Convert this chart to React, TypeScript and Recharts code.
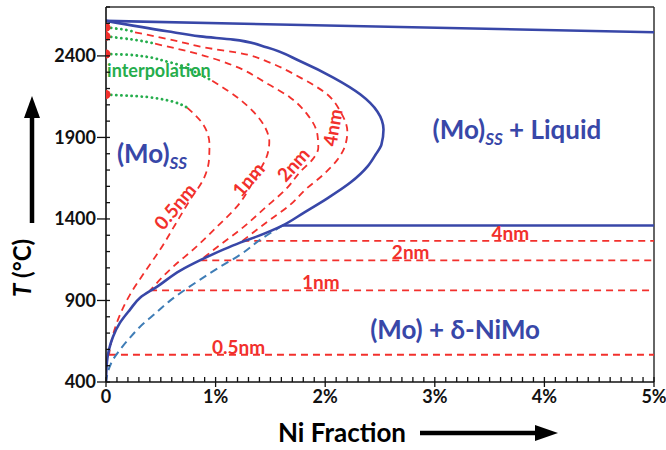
import React from "react";
import {
  ComposedChart,
  Line,
  Scatter,
  XAxis,
  YAxis,
  ReferenceLine,
  ReferenceDot,
} from "recharts";

type Pt = { x: number; t: number };

// x = Ni fraction (%), t = temperature (°C)
const liquidus: Pt[] = [
  { x: 0, t: 2615 },
  { x: 5, t: 2545 },
];

const solidusSolvus: Pt[] = [
  { x: 0, t: 2615 }, { x: 0.557, t: 2551 }, { x: 0.86, t: 2520 },
  { x: 1.161, t: 2500 }, { x: 1.472, t: 2451 }, { x: 1.773, t: 2367 },
  { x: 2.074, t: 2267 }, { x: 2.322, t: 2163 }, { x: 2.477, t: 2058 },
  { x: 2.532, t: 1948 }, { x: 2.513, t: 1856 }, { x: 2.459, t: 1794 },
  { x: 2.385, t: 1721 }, { x: 2.23, t: 1623 }, { x: 2.016, t: 1525 },
  { x: 1.807, t: 1439 }, { x: 1.609, t: 1359 }, { x: 1.38, t: 1293 },
  { x: 1.224, t: 1255 }, { x: 1.069, t: 1212 }, { x: 0.86, t: 1147 },
  { x: 0.677, t: 1083 }, { x: 0.467, t: 985 }, { x: 0.311, t: 917 },
  { x: 0.219, t: 844 }, { x: 0.128, t: 764 }, { x: 0.064, t: 678 },
  { x: 0.027, t: 598 }, { x: 0.009, t: 525 }, { x: 0, t: 400 },
];

const bulkSolvus: Pt[] = [
  { x: 1.609, t: 1359 }, { x: 1.408, t: 1273 }, { x: 1.225, t: 1181 },
  { x: 1.042, t: 1107 }, { x: 0.859, t: 1028 }, { x: 0.585, t: 899 },
  { x: 0.448, t: 819 }, { x: 0.311, t: 739 }, { x: 0.219, t: 672 },
  { x: 0.128, t: 598 }, { x: 0.064, t: 537 }, { x: 0.018, t: 463 },
  { x: 0, t: 400 },
];

const eutecticLine: Pt[] = [
  { x: 1.609, t: 1360 },
  { x: 5, t: 1360 },
];

// nanoparticle sizes
const sizes = ["0.5nm", "1nm", "2nm", "4nm"];
const meltT = [2163, 2412, 2520, 2575];
const plateauT = [567, 962, 1146, 1265];
const plateauStart = [0.027, 0.402, 0.86, 1.243];

const interp05: Pt[] = [{ x: 0, t: 2163 }, { x: 0.402, t: 2146 }, { x: 0.74, t: 2083 }];
const interp1: Pt[] = [
  { x: 0, t: 2412 }, { x: 0.246, t: 2405 }, { x: 0.557, t: 2365 },
  { x: 0.86, t: 2285 }, { x: 0.969, t: 2248 },
];
const interp2: Pt[] = [{ x: 0, t: 2520 }, { x: 0.246, t: 2500 }, { x: 0.448, t: 2475 }];
const interp4: Pt[] = [{ x: 0, t: 2575 }, { x: 0.13, t: 2565 }, { x: 0.265, t: 2545 }];

const curve05: Pt[] = [
  { x: 0.74, t: 2083 }, { x: 0.887, t: 1979 }, { x: 0.944, t: 1856 },
  { x: 0.94, t: 1764 }, { x: 0.896, t: 1653 }, { x: 0.768, t: 1518 },
  { x: 0.631, t: 1365 }, { x: 0.494, t: 1212 }, { x: 0.356, t: 1077 },
  { x: 0.219, t: 936 }, { x: 0.128, t: 813 }, { x: 0.064, t: 690 },
  { x: 0.027, t: 567 },
];
const curve1: Pt[] = [
  { x: 0.969, t: 2248 }, { x: 1.224, t: 2132 }, { x: 1.344, t: 2058 },
  { x: 1.453, t: 1960 }, { x: 1.49, t: 1874 }, { x: 1.472, t: 1794 },
  { x: 1.407, t: 1702 }, { x: 1.316, t: 1598 }, { x: 1.224, t: 1500 },
  { x: 1.014, t: 1353 }, { x: 0.795, t: 1212 }, { x: 0.612, t: 1107 },
  { x: 0.402, t: 962 },
];
const curve2: Pt[] = [
  { x: 0.448, t: 2475 }, { x: 0.86, t: 2408 }, { x: 1.161, t: 2341 },
  { x: 1.472, t: 2230 }, { x: 1.682, t: 2144 }, { x: 1.838, t: 2040 },
  { x: 1.929, t: 1917 }, { x: 1.937, t: 1837 }, { x: 1.883, t: 1764 },
  { x: 1.773, t: 1690 }, { x: 1.655, t: 1592 }, { x: 1.453, t: 1469 },
  { x: 1.224, t: 1334 }, { x: 1.042, t: 1242 }, { x: 0.86, t: 1146 },
];
const curve4: Pt[] = [
  { x: 0.265, t: 2545 }, { x: 0.704, t: 2482 }, { x: 0.86, t: 2457 },
  { x: 1.289, t: 2408 }, { x: 1.472, t: 2365 }, { x: 1.773, t: 2267 },
  { x: 2.02, t: 2163 }, { x: 2.139, t: 2058 }, { x: 2.202, t: 1936 },
  { x: 2.185, t: 1856 }, { x: 2.112, t: 1764 }, { x: 1.983, t: 1672 },
  { x: 1.819, t: 1580 }, { x: 1.682, t: 1488 }, { x: 1.499, t: 1396 },
  { x: 1.243, t: 1265 },
];

const interpCurves = [interp05, interp1, interp2, interp4];
const sizeCurves = [curve05, curve1, curve2, curve4];

// label spots for the curved boundaries [x, t, angle]
const curveLabelAt: [number, number, number][] = [
  [0.631, 1475, -50],
  [1.3, 1641, -49],
  [1.71, 1733, -48],
  [2.07, 1960, -80],
];
const plateauLabelX = [1.21, 1.96, 2.78, 3.69];

const xMajor = [0, 1, 2, 3, 4, 5];
const yMajor = [400, 900, 1400, 1900, 2400];
const xTicks = Array.from({ length: 51 }, (_, i) => i / 10);
const yTicks = Array.from({ length: 24 }, (_, i) => 400 + i * 100);

const BLUE = "#3847a8";
const RED = "#f2302c";
const GREEN = "#25ad4c";
const STEEL = "#3f7db6";
const FONT = "Lato, 'Open Sans', sans-serif";

const meltDots = meltT.map((t) => ({ x: 0, t }));
const plateaus = plateauT.map((t, i) => [
  { x: plateauStart[i], t },
  { x: 5, t },
]);

const lineProps = {
  dataKey: "t",
  dot: false,
  activeDot: false,
  isAnimationActive: false,
  legendType: "none" as const,
};

const YTick = (props: any) => {
  const { x, y, payload } = props;
  const v = payload.value;
  const major = yMajor.includes(v);
  return (
    <g>
      <line x1={major ? x - 9 : x} x2={x + 4} y1={y} y2={y} stroke="#111" strokeWidth={1.3} />
      {major && (
        <text x={x - 10} y={y} dy="0.36em" textAnchor="end" fontFamily={FONT}
          fontWeight={700} fontSize={18} fill="#111">
          {v}
        </text>
      )}
    </g>
  );
};

const XTick = (props: any) => {
  const { x, y, payload } = props;
  const v = payload.value;
  const major = xMajor.some((m) => Math.abs(m - v) < 1e-6);
  return (
    <g>
      <line x1={x} x2={x} y1={y - 5} y2={major ? y + 5 : y} stroke="#111" strokeWidth={1.3} />
      {major && (
        <text x={x} y={y + 7} dy="0.75em" textAnchor="middle" fontFamily={FONT}
          fontWeight={700} fontSize={18} fill="#111">
          {Math.round(v) === 0 ? "0" : `${Math.round(v)}%`}
        </text>
      )}
    </g>
  );
};

const textAt = (render: (cx: number, cy: number) => React.ReactNode) => ({
  content: (p: any) => {
    const vb = p.viewBox || {};
    return render(vb.x + (vb.width || 0) / 2, vb.y + (vb.height || 0) / 2);
  },
});

const phaseText = (cx: number, cy: number, main: string, sub: string, rest: string) => (
  <text x={cx} y={cy} fontFamily={FONT} fontWeight={700} fontSize={26} fill={BLUE}>
    {main}
    <tspan fontSize={17} fontStyle="italic" dy={6}>{sub}</tspan>
    <tspan dy={-6}>{rest}</tspan>
  </text>
);

export default function App() {
  return (
    <div style={{ position: "absolute", left: 0, top: 0, width: 666, height: 450, background: "#fff" }}>
      <ComposedChart
        width={666}
        height={450}
        margin={{ top: 7, right: 12, bottom: 38, left: 0 }}
      >
        <XAxis
          dataKey="x"
          type="number"
          domain={[0, 5]}
          ticks={xTicks}
          interval={0}
          tickSize={0}
          tickMargin={0}
          tick={<XTick />}
          tickLine={false}
          axisLine={{ stroke: "#111", strokeWidth: 1.6 }}
          height={30}
          allowDataOverflow
        />
        <YAxis
          dataKey="t"
          type="number"
          domain={[400, 2700]}
          ticks={yTicks}
          interval={0}
          tickSize={0}
          tickMargin={0}
          tick={<YTick />}
          tickLine={false}
          axisLine={{ stroke: "#111", strokeWidth: 1.6 }}
          width={106}
          allowDataOverflow
        />
        <ReferenceLine y={2700} stroke="#333" strokeWidth={1.5} />
        <ReferenceLine x={5} stroke="#333" strokeWidth={1.5} />

        {plateaus.map((d, i) => (
          <Line key={"h" + i} data={d} type="linear" stroke={RED} strokeWidth={1.8}
            strokeDasharray="7 5" {...lineProps} />
        ))}
        {sizeCurves.map((d, i) => (
          <Line key={"c" + i} data={d} type="monotoneY" stroke={RED} strokeWidth={1.8}
            strokeDasharray="7 5" {...lineProps} />
        ))}
        {interpCurves.map((d, i) => (
          <Line key={"g" + i} data={d} type="monotoneY" stroke={GREEN} strokeWidth={2.8}
            strokeDasharray="0.1 5" strokeLinecap="round" {...lineProps} />
        ))}
        <Line data={bulkSolvus} type="monotoneY" stroke={STEEL} strokeWidth={2}
          strokeDasharray="8 5" {...lineProps} />
        <Line data={liquidus} type="linear" stroke={BLUE} strokeWidth={2.6} {...lineProps} />
        <Line data={eutecticLine} type="linear" stroke={BLUE} strokeWidth={2.6} {...lineProps} />
        <Line data={solidusSolvus} type="monotoneY" stroke={BLUE} strokeWidth={2.6} {...lineProps} />
        <Scatter data={meltDots} fill={RED} isAnimationActive={false} legendType="none" />

        {sizes.map((s, i) => (
          <ReferenceDot key={"cl" + i} x={curveLabelAt[i][0]} y={curveLabelAt[i][1]} r={0}
            fill="none" stroke="none"
            label={textAt((cx, cy) => (
              <text x={cx} y={cy} dy="0.35em" textAnchor="middle" fontFamily={FONT}
                fontWeight={700} fontSize={19} fill={RED}
                transform={`rotate(${curveLabelAt[i][2]} ${cx} ${cy})`}>
                {s}
              </text>
            ))} />
        ))}
        {sizes.map((s, i) => (
          <ReferenceDot key={"pl" + i} x={plateauLabelX[i]} y={plateauT[i]} r={0}
            fill="none" stroke="none"
            label={textAt((cx, cy) => (
              <text x={cx} y={cy - 1} textAnchor="middle" fontFamily={FONT}
                fontWeight={700} fontSize={19} fill={RED}>
                {s}
              </text>
            ))} />
        ))}
        <ReferenceDot x={0.01} y={2270} r={0} fill="none" stroke="none"
          label={textAt((cx, cy) => (
            <text x={cx} y={cy} fontFamily={FONT} fontWeight={700} fontSize={18} fill={GREEN}>
              interpolation
            </text>
          ))} />
        <ReferenceDot x={0.1} y={1745} r={0} fill="none" stroke="none"
          label={textAt((cx, cy) => phaseText(cx, cy, "(Mo)", "SS", ""))} />
        <ReferenceDot x={2.98} y={1893} r={0} fill="none" stroke="none"
          label={textAt((cx, cy) => phaseText(cx, cy, "(Mo)", "SS", " + Liquid"))} />
        <ReferenceDot x={2.41} y={666} r={0} fill="none" stroke="none"
          label={textAt((cx, cy) => (
            <text x={cx} y={cy} fontFamily={FONT} fontWeight={700} fontSize={26} fill={BLUE}>
              (Mo) + δ-NiMo
            </text>
          ))} />
      </ComposedChart>

      <svg width={666} height={450}
        style={{ position: "absolute", left: 0, top: 0, pointerEvents: "none" }}>
        <text transform="translate(31,268) rotate(-90)" textAnchor="middle"
          fontFamily={FONT} fontWeight={700} fontSize={24} fill="#000">
          <tspan fontStyle="italic">T</tspan> (°C)
        </text>
        <line x1={32} y1={223} x2={32} y2={116} stroke="#000" strokeWidth={4.5} />
        <polygon points="24,118 40,118 32,96" fill="#000" />
        <text x={342} y={442} textAnchor="middle" fontFamily={FONT} fontWeight={700}
          fontSize={26} fill="#000">
          Ni Fraction
        </text>
        <line x1={420} y1={433} x2={537} y2={433} stroke="#000" strokeWidth={4.5} />
        <polygon points="535,425 535,441 558,433" fill="#000" />
      </svg>
    </div>
  );
}
